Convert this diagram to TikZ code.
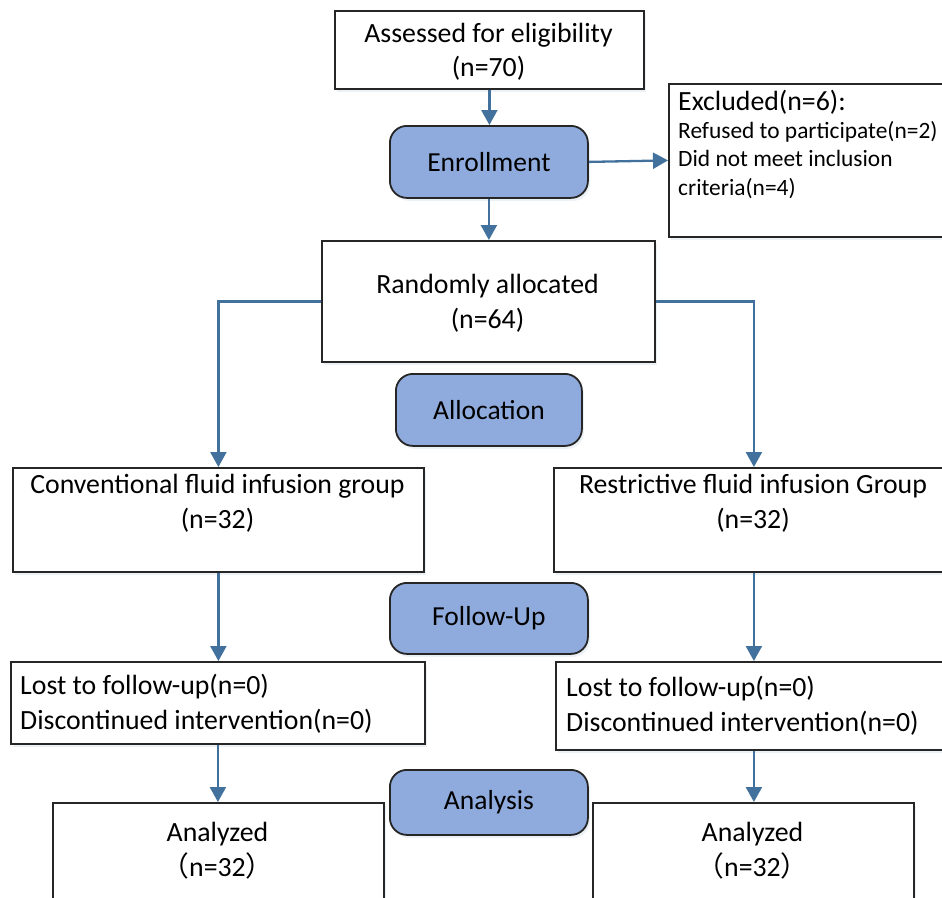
\documentclass[tikz,border=0pt]{standalone}
\usepackage{fontspec}
\setmainfont{Carlito}
\newfontfamily\cjkfont{Noto Sans CJK SC}
\usetikzlibrary{arrows.meta,shadows}
\definecolor{phaseblue}{HTML}{8FAADC}
\definecolor{arrowblue}{HTML}{41719C}
\definecolor{boxline}{HTML}{262626}
\tikzset{
 box/.style={draw=boxline, line width=1.8pt, fill=white, rectangle, inner sep=0pt, anchor=north west,
   drop shadow={shadow xshift=2pt, shadow yshift=-3pt, opacity=0.10, fill=arrowblue}},
 phase/.style={box, fill=phaseblue, rounded corners=17pt, font=\fontsize{27.5}{34.5}\selectfont},
 txt/.style={inner sep=0pt, font=\fontsize{27.8}{34.5}\selectfont, align=center},
 ltxt/.style={txt, align=left, anchor=west},
 flow/.style={draw=arrowblue, line width=2.3pt, -{Triangle[width=16pt,length=15pt]}},
}
\begin{document}
\begin{tikzpicture}[x=1pt,y=-1pt]
\useasboundingbox (0,0) rectangle (942,897);
% boxes
\node[box, minimum width=309pt, minimum height=78pt] (assess) at (334,10) {};
\node[txt] (assess-t) at (488.5,52) {Assessed for eligibility\\(n=70)};
\node[phase, minimum width=198pt, minimum height=72pt] (enroll) at (389,125) {Enrollment};
\node[box, minimum width=277pt, minimum height=153pt] (excl) at (668,83) {};
\node[ltxt] (excl-h) at (678,102) {Excluded(n=6):};
\node[ltxt, font=\fontsize{23.4}{28.2}\selectfont] (excl-b) at (678,160) {Refused to participate(n=2)\\Did not meet inclusion\\criteria(n=4)};
\node[box, minimum width=333pt, minimum height=121pt] (random) at (321,240) {};
\node[txt] (random-t) at (487.5,303.5) {Randomly allocated\\(n=64)};
\node[phase, minimum width=186pt, minimum height=72pt] (alloc) at (395,373) {Allocation};
\node[box, minimum width=411pt, minimum height=104pt] (conv) at (12,467) {};
\node[txt] (conv-t) at (217.5,503.5) {Conventional fluid infusion group\\(n=32)};
\node[box, minimum width=400pt, minimum height=104pt] (restr) at (553,467) {};
\node[txt] (restr-t) at (753,503.5) {Restrictive fluid infusion Group\\(n=32)};
\node[phase, minimum width=198pt, minimum height=71pt] (follow) at (389,582) {Follow-Up};
\node[box, minimum width=414pt, minimum height=82pt] (lostL) at (10,661) {};
\node[ltxt] (lostL-t) at (20,703.5) {Lost to follow-up(n=0)\\Discontinued intervention(n=0)};
\node[box, minimum width=396pt, minimum height=88pt] (lostR) at (555,661) {};
\node[ltxt] (lostR-t) at (566,705.5) {Lost to follow-up(n=0)\\Discontinued intervention(n=0)};
\node[phase, minimum width=198pt, minimum height=65pt] (analysis) at (389,769) {Analysis};
\node[box, minimum width=331pt, minimum height=108pt] (anaL) at (52,802) {};
\node[txt] (anaL-t) at (217.5,850.5) {Analyzed\\{\cjkfont （}n=32{\cjkfont ）}};
\node[box, minimum width=321pt, minimum height=108pt] (anaR) at (592,802) {};
\node[txt] (anaR-t) at (752.5,850.5) {Analyzed\\{\cjkfont （}n=32{\cjkfont ）}};
% connectors
\draw[flow] (assess.south) -- (assess.south |- enroll.north);
\draw[flow] (enroll.east) -- (excl.west);
\draw[flow] (enroll.south) -- (enroll.south |- random.north);
\draw[flow] (random.west) -| (conv.north);
\draw[flow] (random.east) -| (restr.north);
\draw[flow] (conv.south) -- (conv.south |- lostL.north);
\draw[flow] (restr.south) -- (restr.south |- lostR.north);
\draw[flow] (lostL.south) -- (lostL.south |- anaL.north);
\draw[flow] (lostR.south) -- (lostR.south |- anaR.north);
\end{tikzpicture}
\end{document}
